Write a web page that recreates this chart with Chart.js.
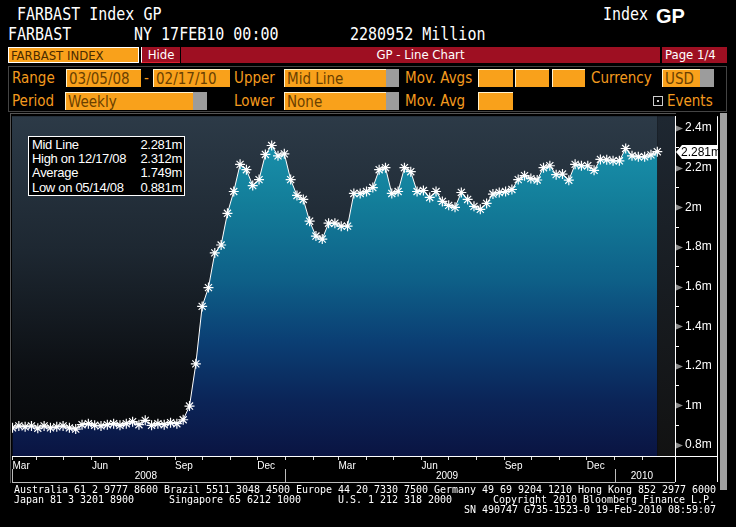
<!DOCTYPE html>
<html>
<head>
<meta charset="utf-8">
<script src="https://cdn.jsdelivr.net/npm/chart.js@4.4.1/dist/chart.umd.min.js"></script>
<style>
  body { margin: 0; background: #000; width: 736px; height: 527px; overflow: hidden; position: relative;
         font-family: "DejaVu Sans", sans-serif; font-stretch: condensed; }
  .a { position: absolute; white-space: nowrap; }
  .big { font-family: "DejaVu Sans Mono", monospace; font-size: 15px; color: #fff; line-height: 15px;
         transform: scaleY(1.2); transform-origin: 0 0; }
  .gp { font-family: "Liberation Sans", Arial, sans-serif; font-weight: bold; font-size: 20px; color: #fff; }
  .box { position: absolute; height: 16px; top: 47px; font-size: 13px; line-height: 16px; color: #fff; box-sizing: border-box; }
  .red { background: #9e0f22; }
  .lbl { position: absolute; color: #f39a1e; font-size: 15px; line-height: 18px; }
  .fld { position: absolute; height: 18px; background: #f9a11b; color: #6a3f00; font-size: 15px; line-height: 18px;
         box-sizing: border-box; border-top: 1px solid #fff3d0; border-left: 1px solid #fff3d0; padding-left: 2px; }
  .drop { position: absolute; height: 18px; background: #9c9c9c; }
  #panel { position: absolute; left: 0; top: 110px; width: 736px; height: 380px; }
  #stats { position: absolute; left: 28px; top: 136px; width: 157px; height: 60px; background: #000;
           border: 1px solid #fff; box-sizing: border-box; font-family: "Liberation Sans", Arial, sans-serif;
           font-size: 13px; color: #fff; padding: 1px 2px 0 3px; letter-spacing: -0.3px; }
  #stats div { height: 14.2px; line-height: 14.2px; display: flex; justify-content: space-between; }
  .foot { position: absolute; font-family: "DejaVu Sans Mono", monospace; font-size: 10px; color: #fff; line-height: 10px;
          white-space: pre; letter-spacing: -0.02px; }
</style>
</head>
<body>
<div class="a big" style="left:17px;top:6px">FARBAST Index GP</div>
<div class="a big" style="left:603px;top:6px">Index</div>
<div class="a gp" style="left:656px;top:5px">GP</div>
<div class="a big" style="left:8px;top:26px">FARBAST</div>
<div class="a big" style="left:134px;top:26px">NY 17FEB10 00:00</div>
<div class="a big" style="left:350px;top:26px">2280952 Million</div>

<div class="box" style="left:8px;width:131px;background:#f9a11b;border:1px solid #fff;color:#4a2a00;padding-left:2px">FARBAST INDEX</div>
<div class="box red" style="left:141px;width:39px;border-left:1px solid #fff;border-bottom:1px solid #e02030;text-align:center">Hide</div>
<div class="box red" style="left:181px;width:479px;text-align:center">GP - Line Chart</div>
<div class="box red" style="left:662px;width:65px;padding-left:3px">Page 1/4</div>

<div class="a" style="left:8px;top:66px;width:719px;height:46px;border:1px solid #444;box-sizing:border-box"></div>
<div class="lbl" style="left:12px;top:69px">Range</div>
<div class="fld" style="left:66px;top:69px;width:75px">03/05/08</div>
<div class="lbl" style="left:144px;top:69px">-</div>
<div class="fld" style="left:153px;top:69px;width:77px">02/17/10</div>
<div class="lbl" style="left:234px;top:69px">Upper</div>
<div class="fld" style="left:284px;top:69px;width:102px">Mid Line</div>
<div class="drop" style="left:386px;top:69px;width:13px"></div>
<div class="lbl" style="left:405px;top:69px">Mov. Avgs</div>
<div class="fld" style="left:478px;top:69px;width:35px"></div>
<div class="fld" style="left:515px;top:69px;width:34px"></div>
<div class="fld" style="left:552px;top:69px;width:33px"></div>
<div class="lbl" style="left:591px;top:69px">Currency</div>
<div class="fld" style="left:662px;top:69px;width:38px">USD</div>
<div class="drop" style="left:700px;top:69px;width:14px"></div>

<div class="lbl" style="left:12px;top:92px">Period</div>
<div class="fld" style="left:65px;top:92px;width:128px">Weekly</div>
<div class="drop" style="left:193px;top:92px;width:14px"></div>
<div class="lbl" style="left:234px;top:92px">Lower</div>
<div class="fld" style="left:284px;top:92px;width:102px">None</div>
<div class="drop" style="left:386px;top:92px;width:13px"></div>
<div class="lbl" style="left:405px;top:92px">Mov. Avg</div>
<div class="fld" style="left:478px;top:92px;width:35px"></div>
<div class="a" style="left:653px;top:96px;width:10px;height:10px;border:1px solid #ccc;box-sizing:border-box"></div>
<div class="a" style="left:657px;top:100px;width:2px;height:2px;background:#ccc"></div>
<div class="lbl" style="left:667px;top:92px">Events</div>

<div class="a" style="left:10px;top:113px;width:666px;height:1px;background:#555"></div>
<div class="a" style="left:10px;top:113px;width:1px;height:370px;background:#555"></div>
<div id="panel"><canvas id="farbast" width="736" height="380"></canvas></div>
<div id="stats"></div>
<div class="a" style="left:720px;top:113px;width:7px;height:377px;background:#a0a0a0"></div>

<div class="foot" style="left:14px;top:485px">Australia 61 2 9777 8600 Brazil 5511 3048 4500 Europe 44 20 7330 7500 Germany 49 69 9204 1210 Hong Kong 852 2977 6000</div>
<div class="foot" style="left:14px;top:495px">Japan 81 3 3201 8900</div>
<div class="foot" style="left:169px;top:495px">Singapore 65 6212 1000</div>
<div class="foot" style="left:338px;top:495px">U.S. 1 212 318 2000</div>
<div class="foot" style="left:493px;top:495px">Copyright 2010 Bloomberg Finance L.P.</div>
<div class="foot" style="left:464px;top:505px">SN 490747 G735-1523-0 19-Feb-2010 08:59:07</div>

<script>
// weekly closes from 03/05/08, in millions
const startDate = "2008-03-05";
const values = [
  0.887, 0.897, 0.892, 0.897, 0.885, 0.897, 0.887, 0.892, 0.897, 0.887,
  0.881, 0.903, 0.908, 0.900, 0.897, 0.903, 0.908, 0.900, 0.908, 0.918,
  0.903, 0.925, 0.900, 0.908, 0.903, 0.913, 0.908, 0.928, 0.997, 1.210,
  1.500, 1.595, 1.770, 1.810, 1.970, 2.080, 2.217, 2.190, 2.110, 2.140,
  2.267, 2.312, 2.260, 2.270, 2.140, 2.060, 2.040, 1.930, 1.855, 1.840,
  1.920, 1.920, 1.905, 1.905, 2.070, 2.070, 2.080, 2.100, 2.190, 2.200,
  2.070, 2.080, 2.200, 2.180, 2.080, 2.085, 2.050, 2.080, 2.030, 2.010,
  2.000, 2.075, 2.040, 2.005, 1.990, 2.020, 2.067, 2.075, 2.080, 2.090,
  2.140, 2.160, 2.145, 2.138, 2.200, 2.210, 2.165, 2.168, 2.137, 2.217,
  2.210, 2.210, 2.187, 2.242, 2.240, 2.235, 2.235, 2.297, 2.260, 2.255,
  2.255, 2.265, 2.281
];

const statsLabels = ["Mid Line", "High on 12/17/08", "Average", "Low on 05/14/08"];
const statsValues = ["2.281m", "2.312m", "1.749m", "0.881m"];
const lastLabel = "2.281m";

const yTicks = [0.8, 1.0, 1.2, 1.4, 1.6, 1.8, 2.0, 2.2, 2.4];
const yTickLabels = ["0.8m", "1m", "1.2m", "1.4m", "1.6m", "1.8m", "2m", "2.2m", "2.4m"];
const yMinorTicks = [0.9, 1.1, 1.3, 1.5, 1.7, 1.9, 2.1, 2.3];

const monthLabelDates = ["2008-03-05", "2008-06-01", "2008-09-01", "2008-12-01",
                         "2009-03-01", "2009-06-01", "2009-09-01", "2009-12-01"];
const monthLabels = ["Mar", "Jun", "Sep", "Dec", "Mar", "Jun", "Sep", "Dec"];
const years = ["2008", "2009", "2010"];
const yearStarts = ["2008-03-05", "2009-01-01", "2010-01-01"];

const week = d => (Date.parse(d) - Date.parse(startDate)) / (7 * 86400000);

// every month start gets a small tick
const monthTicks = [];
for (let y = 2008, m = 3; y < 2010 || m < 2; m++) {
  if (m > 11) { m = 0; y++; }
  monthTicks.push(week(y + "-" + String(m + 1).padStart(2, "0") + "-01"));
  if (y === 2010 && m === 1) break;
}

const statsBox = document.getElementById("stats");
statsLabels.forEach((l, i) => {
  const row = document.createElement("div");
  row.innerHTML = "<span>" + l + "</span><span>" + statsValues[i] + "</span>";
  statsBox.appendChild(row);
});

const X_MIN = -0.08, X_MAX = 104.8;

const panelPlugin = {
  id: "panel",
  beforeDraw(chart) {
    const { ctx, chartArea: a, scales: { x } } = chart;
    const lastX = x.getPixelForValue(values.length - 1);
    ctx.save();
    let g = ctx.createLinearGradient(0, a.top, 0, a.bottom);
    g.addColorStop(0, "#2c3a47");
    g.addColorStop(0.4, "#1d2731");
    g.addColorStop(0.75, "#0c0f13");
    g.addColorStop(1, "#050607");
    ctx.fillStyle = g;
    ctx.fillRect(a.left, a.top, lastX - a.left, a.bottom - a.top);
    g = ctx.createLinearGradient(0, a.top, 0, a.bottom);
    g.addColorStop(0, "#1e2731");
    g.addColorStop(1, "#121212");
    ctx.fillStyle = g;
    ctx.fillRect(lastX, a.top, a.right - lastX, a.bottom - a.top);
    ctx.restore();
  },
  afterDraw(chart) {
    const { ctx, chartArea: a, scales: { x, y } } = chart;
    const rowTop = a.bottom + 13, rowBot = a.bottom + 26;
    ctx.save();
    // axis frame
    ctx.strokeStyle = "#fff";
    ctx.lineWidth = 1;
    ctx.beginPath();
    ctx.moveTo(a.left, a.bottom + 0.5); ctx.lineTo(a.right + 42, a.bottom + 0.5);
    ctx.moveTo(a.right + 0.5, a.top); ctx.lineTo(a.right + 0.5, rowBot);
    ctx.moveTo(a.right + 42.5, a.top); ctx.lineTo(a.right + 42.5, rowBot);
    ctx.stroke();
    // year row
    ctx.strokeStyle = "#bbb";
    ctx.beginPath();
    ctx.moveTo(a.left, rowBot + 0.5); ctx.lineTo(a.right, rowBot + 0.5);
    ctx.moveTo(a.left + 0.5, rowTop); ctx.lineTo(a.left + 0.5, rowBot);
    yearStarts.slice(1).forEach(d => {
      const px = Math.round(x.getPixelForValue(week(d))) + 0.5;
      ctx.moveTo(px, rowTop); ctx.lineTo(px, rowBot);
    });
    ctx.stroke();
    ctx.fillStyle = "#fff";
    ctx.font = "10px 'Liberation Sans', Arial, sans-serif";
    ctx.textAlign = "center";
    ctx.textBaseline = "middle";
    years.forEach((yr, i) => {
      const l = Math.max(a.left, x.getPixelForValue(week(yearStarts[i])));
      const r = i + 1 < yearStarts.length ? x.getPixelForValue(week(yearStarts[i + 1])) : a.right;
      ctx.fillText(yr, (l + r) / 2 - 3, rowTop + 7);
    });
    // gray wedges on the major value ticks
    ctx.fillStyle = "#8a8a8a";
    yTicks.forEach(v => {
      const py = Math.round(y.getPixelForValue(v)) + 0.5;
      ctx.beginPath();
      ctx.moveTo(a.right + 1, py - 3);
      ctx.lineTo(a.right + 8, py);
      ctx.lineTo(a.right + 1, py + 3);
      ctx.closePath();
      ctx.fill();
    });
    // last value tag
    const ly = Math.round(y.getPixelForValue(values[values.length - 1]));
    ctx.fillStyle = "#fff";
    ctx.beginPath();
    ctx.moveTo(a.right + 1, ly);
    ctx.lineTo(a.right + 7, ly - 7);
    ctx.lineTo(a.right + 43, ly - 7);
    ctx.lineTo(a.right + 43, ly + 7);
    ctx.lineTo(a.right + 7, ly + 7);
    ctx.closePath();
    ctx.fill();
    ctx.fillStyle = "#000";
    ctx.font = "12px 'Liberation Sans', Arial, sans-serif";
    ctx.textAlign = "left";
    ctx.fillText(lastLabel, a.right + 6, ly + 1);
    ctx.restore();
  }
};

const noPad = s => { s.paddingLeft = 0; s.paddingRight = 0; s.paddingTop = 0; s.paddingBottom = 0; };

new Chart(document.getElementById("farbast"), {
  type: "line",
  data: {
    datasets: [{
      data: values.map((v, i) => ({ x: i, y: v })),
      borderColor: "#fff",
      borderWidth: 1,
      tension: 0,
      fill: "start",
      backgroundColor(c) {
        const a = c.chart.chartArea;
        if (!a) return "#0e5a80";
        const g = c.chart.ctx.createLinearGradient(0, a.top, 0, a.bottom);
        g.addColorStop(0, "#1b98b2");
        g.addColorStop(0.25, "#137e9a");
        g.addColorStop(0.48, "#0e6088");
        g.addColorStop(0.66, "#0b3f74");
        g.addColorStop(0.84, "#0b2457");
        g.addColorStop(1, "#0a1442");
        return g;
      },
      pointStyle: "star",
      pointRadius: 5,
      pointBorderColor: "#fff",
      pointBackgroundColor: "#fff",
      pointBorderWidth: 1.2
    }]
  },
  options: {
    responsive: false,
    animation: false,
    events: [],
    layout: { padding: { left: 12, top: 4, right: 19, bottom: 8 } },
    plugins: { legend: { display: false }, tooltip: { enabled: false } },
    scales: {
      x: {
        type: "linear",
        min: X_MIN,
        max: X_MAX,
        afterBuildTicks(s) {
          const t = monthTicks.map(v => ({ value: v }));
          t.push({ value: 0 });
          t.sort((p, q) => p.value - q.value);
          s.ticks = t;
        },
        afterFit(s) { s.height = 26; noPad(s); },
        border: { color: "#fff" },
        grid: { drawOnChartArea: false, tickLength: 4, color: "#ddd" },
        ticks: {
          autoSkip: false,
          maxRotation: 0,
          align: "start",
          padding: 0,
          labelOffset: 0,
          color: "#fff",
          font: { family: "Liberation Sans", size: 10 },
          callback(v) {
            const k = monthLabelDates.findIndex(d => Math.abs(week(d) - v) < 0.01);
            return k >= 0 ? monthLabels[k] : "";
          }
        }
      },
      y: {
        position: "right",
        min: 0.745,
        max: 2.46,
        afterBuildTicks(s) {
          s.ticks = yTicks.concat(yMinorTicks).sort((p, q) => p - q).map(v => ({ value: v }));
        },
        afterFit(s) { s.width = 42; noPad(s); },
        border: { color: "#fff" },
        grid: {
          drawOnChartArea: false,
          tickLength: 4,
          tickColor: c => (c.tick && yMinorTicks.some(m => Math.abs(m - c.tick.value) < 1e-6)) ? "#fff" : "rgba(0,0,0,0)"
        },
        ticks: {
          padding: 6,
          color: "#fff",
          font: { family: "Liberation Sans", size: 12 },
          callback(v) {
            const k = yTicks.findIndex(t => Math.abs(t - v) < 1e-6);
            return k >= 0 ? yTickLabels[k] : "";
          }
        }
      }
    }
  },
  plugins: [panelPlugin]
});
</script>
</body>
</html>
